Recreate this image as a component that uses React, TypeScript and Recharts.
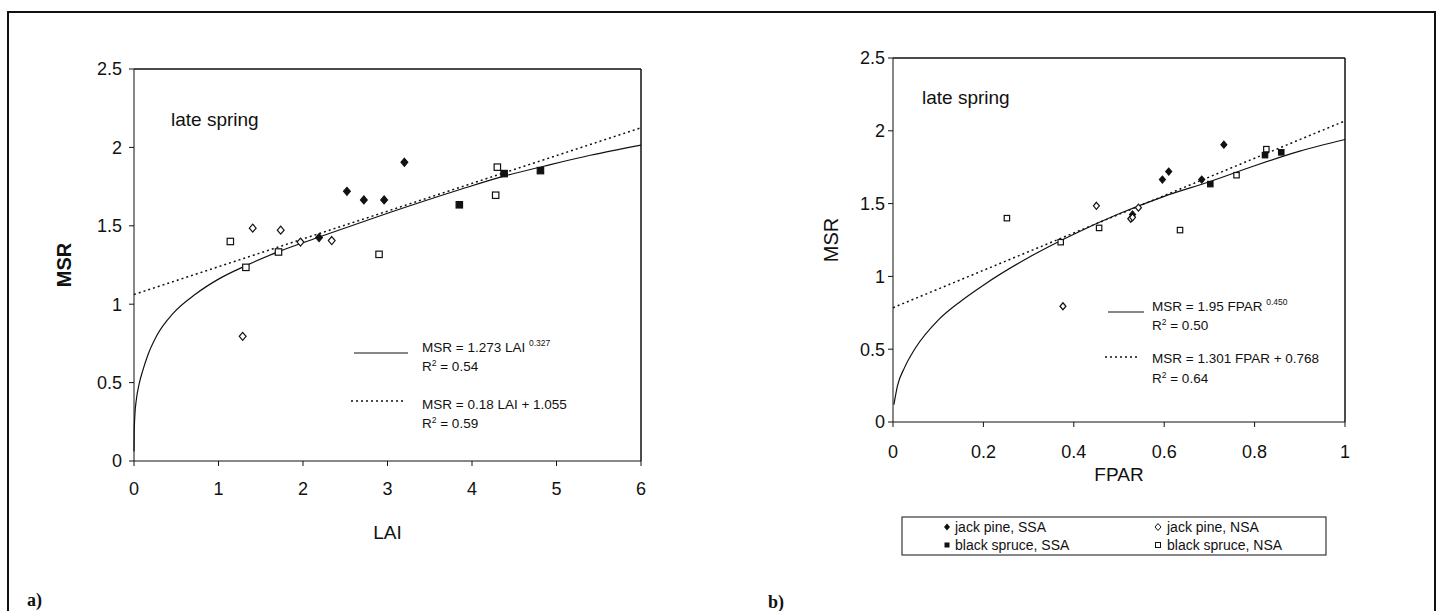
import { ComposedChart, Line, Scatter, XAxis, YAxis, ReferenceLine } from 'recharts';

const FONT = '"Liberation Sans", Arial, sans-serif';
const INK = '#111';

// same sites in both panels, MSR shared
const jackPineSsaMsr = [1.425, 1.72, 1.665, 1.665, 1.905];
const jackPineSsaLai = [2.19, 2.52, 2.72, 2.96, 3.2];
const jackPineSsaFpar = [0.53, 0.61, 0.596, 0.683, 0.732];

const jackPineNsaMsr = [1.485, 1.472, 1.396, 1.406, 0.795];
const jackPineNsaLai = [1.405, 1.736, 1.97, 2.34, 1.286];
const jackPineNsaFpar = [0.45, 0.543, 0.526, 0.53, 0.376];

const blackSpruceSsaMsr = [1.634, 1.833, 1.852];
const blackSpruceSsaLai = [3.85, 4.38, 4.81];
const blackSpruceSsaFpar = [0.702, 0.823, 0.859];

const blackSpruceNsaMsr = [1.4, 1.235, 1.333, 1.318, 1.874, 1.695];
const blackSpruceNsaLai = [1.14, 1.324, 1.71, 2.9, 4.3, 4.28];
const blackSpruceNsaFpar = [0.252, 0.371, 0.456, 0.635, 0.826, 0.76];

// fitted curves
const laiPowerX = [0.0001, 0.002, 0.01, 0.03, 0.06, 0.1, 0.16, 0.27, 0.46, 0.73, 1.0, 1.32, 1.71, 2.2, 3.0, 3.85, 4.4, 4.85, 5.4, 6.0];
const laiPowerY = [0.06, 0.18, 0.29, 0.4, 0.49, 0.57, 0.67, 0.8, 0.94, 1.065, 1.16, 1.245, 1.335, 1.43, 1.58, 1.73, 1.82, 1.88, 1.95, 2.015];
const laiLinearX = [0, 6];
const laiLinearY = [1.062, 2.125];

const fparPowerX = [0.002, 0.01, 0.025, 0.05, 0.1, 0.15, 0.2, 0.3, 0.4, 0.5, 0.6, 0.7, 0.8, 0.9, 1.0];
const fparPowerY = [0.12, 0.25, 0.37, 0.51, 0.7, 0.83, 0.94, 1.13, 1.29, 1.43, 1.55, 1.65, 1.76, 1.86, 1.94];
const fparLinearX = [0, 1];
const fparLinearY = [0.785, 2.068];

const laiTicks = [0, 1, 2, 3, 4, 5, 6];
const fparTicks = [0, 0.2, 0.4, 0.6, 0.8, 1];
const msrTicks = [0, 0.5, 1, 1.5, 2, 2.5];

const pts = (xs: number[], ys: number[]) => xs.map((x, i) => ({ x, y: ys[i] }));

const diamond = (filled: boolean, r: number) => (props: any) => {
  const { cx, cy } = props;
  return (
    <path
      d={`M${cx},${cy - r}L${cx + r * 0.85},${cy}L${cx},${cy + r}L${cx - r * 0.85},${cy}Z`}
      fill={filled ? INK : '#fff'}
      stroke={INK}
      strokeWidth={1.2}
    />
  );
};

const square = (filled: boolean, r: number) => (props: any) => {
  const { cx, cy } = props;
  return (
    <rect x={cx - r} y={cy - r} width={r * 2} height={r * 2} fill={filled ? INK : '#fff'} stroke={INK} strokeWidth={1.2} />
  );
};

interface PanelProps {
  left: number;
  width: number;
  margin: { top: number; right: number; bottom: number; left: number };
  xDomain: [number, number];
  xTicks: number[];
  xLabel: string;
  xAxisHeight: number;
  xTickMargin: number;
  yTickMargin: number;
  yLabelOffset: number;
  yLabelBold?: boolean;
  xLabelOffset: number;
  jpSsaX: number[];
  jpNsaX: number[];
  bsSsaX: number[];
  bsNsaX: number[];
  powerX: number[];
  powerY: number[];
  linX: number[];
  linY: number[];
  markerR: number;
}

function Panel(p: PanelProps) {
  const tick = { fill: INK, fontSize: 18, fontFamily: FONT };
  return (
    <div style={{ position: 'absolute', left: p.left, top: 0 }}>
      <ComposedChart width={p.width} height={611} margin={p.margin}>
        <XAxis
          type="number"
          dataKey="x"
          domain={p.xDomain}
          ticks={p.xTicks}
          height={p.xAxisHeight}
          tick={tick}
          tickSize={5}
          tickMargin={p.xTickMargin}
          stroke={INK}
          label={{ value: p.xLabel, position: 'insideBottom', offset: p.xLabelOffset, fill: INK, fontSize: 19, fontFamily: FONT }}
        />
        <YAxis
          type="number"
          dataKey="y"
          domain={[0, 2.5]}
          ticks={msrTicks}
          width={60}
          tick={tick}
          tickSize={5}
          tickMargin={p.yTickMargin}
          stroke={INK}
          label={{
            value: 'MSR',
            angle: -90,
            position: 'insideLeft',
            offset: p.yLabelOffset,
            fill: INK,
            fontSize: 20,
            fontFamily: FONT,
            fontWeight: p.yLabelBold ? 700 : 400,
            style: { textAnchor: 'middle' },
          }}
        />
        <ReferenceLine y={2.5} stroke={INK} strokeWidth={1.5} />
        <ReferenceLine x={p.xDomain[1]} stroke={INK} strokeWidth={1.5} />
        <Line
          data={pts(p.linX, p.linY)}
          dataKey="y"
          type="linear"
          stroke={INK}
          strokeWidth={1.5}
          strokeDasharray="2 3"
          dot={false}
          activeDot={false}
          isAnimationActive={false}
        />
        <Line
          data={pts(p.powerX, p.powerY)}
          dataKey="y"
          type="monotone"
          stroke={INK}
          strokeWidth={1.2}
          dot={false}
          activeDot={false}
          isAnimationActive={false}
        />
        <Scatter data={pts(p.jpSsaX, jackPineSsaMsr)} shape={diamond(true, p.markerR)} isAnimationActive={false} />
        <Scatter data={pts(p.jpNsaX, jackPineNsaMsr)} shape={diamond(false, p.markerR)} isAnimationActive={false} />
        <Scatter data={pts(p.bsSsaX, blackSpruceSsaMsr)} shape={square(true, p.markerR - 0.8)} isAnimationActive={false} />
        <Scatter data={pts(p.bsNsaX, blackSpruceNsaMsr)} shape={square(false, p.markerR - 0.8)} isAnimationActive={false} />
      </ComposedChart>
    </div>
  );
}

const eqText = { fontFamily: FONT, fontSize: 13.5, fill: INK };

export default function App() {
  return (
    <div style={{ position: 'absolute', left: 0, top: 0, width: 1444, height: 611, background: '#fff', overflow: 'hidden' }}>
      <div
        style={{
          position: 'absolute',
          left: 7,
          top: 11,
          width: 1425,
          height: 640,
          borderTop: `2px solid ${INK}`,
          borderLeft: `2px solid ${INK}`,
          borderRight: `2px solid ${INK}`,
        }}
      />
      <Panel
        left={0}
        width={700}
        margin={{ top: 69, right: 59, bottom: 70, left: 74 }}
        xDomain={[0, 6]}
        xTicks={laiTicks}
        xLabel="LAI"
        xAxisHeight={80}
        xTickMargin={16}
        yTickMargin={7}
        yLabelOffset={-10}
        yLabelBold
        xLabelOffset={2}
        jpSsaX={jackPineSsaLai}
        jpNsaX={jackPineNsaLai}
        bsSsaX={blackSpruceSsaLai}
        bsNsaX={blackSpruceNsaLai}
        powerX={laiPowerX}
        powerY={laiPowerY}
        linX={laiLinearX}
        linY={laiLinearY}
        markerR={4}
      />
      <Panel
        left={720}
        width={700}
        margin={{ top: 58, right: 75, bottom: 129, left: 113 }}
        xDomain={[0, 1]}
        xTicks={fparTicks}
        xLabel="FPAR"
        xAxisHeight={60}
        xTickMargin={18}
        yTickMargin={3}
        yLabelOffset={-2}
        xLabelOffset={1}
        jpSsaX={jackPineSsaFpar}
        jpNsaX={jackPineNsaFpar}
        bsSsaX={blackSpruceSsaFpar}
        bsNsaX={blackSpruceNsaFpar}
        powerX={fparPowerX}
        powerY={fparPowerY}
        linX={fparLinearX}
        linY={fparLinearY}
        markerR={3.5}
      />
      <svg width={1444} height={611} style={{ position: 'absolute', left: 0, top: 0, pointerEvents: 'none' }}>
        <text x={171} y={126} fontFamily={FONT} fontSize={19} fill={INK}>late spring</text>
        <text x={922} y={104} fontFamily={FONT} fontSize={19} fill={INK}>late spring</text>

        {/* panel a fit legend */}
        <line x1={354} x2={408} y1={353} y2={353} stroke={INK} strokeWidth={1.2} />
        <text x={422} y={352} {...eqText}>
          MSR = 1.273 LAI <tspan fontSize={8.5} dy={-6}>0.327</tspan>
        </text>
        <text x={422} y={371} {...eqText}>
          R<tspan fontSize={8.5} dy={-5}>2</tspan><tspan dy={5}> = 0.54</tspan>
        </text>
        <line x1={351} x2={404} y1={401} y2={401} stroke={INK} strokeWidth={1.5} strokeDasharray="2 3" />
        <text x={422} y={409} {...eqText}>MSR = 0.18 LAI + 1.055</text>
        <text x={422} y={428} {...eqText}>
          R<tspan fontSize={8.5} dy={-5}>2</tspan><tspan dy={5}> = 0.59</tspan>
        </text>

        {/* panel b fit legend */}
        <line x1={1108} x2={1144} y1={312} y2={312} stroke={INK} strokeWidth={1.2} />
        <text x={1152} y={311} {...eqText}>
          MSR = 1.95 FPAR <tspan fontSize={8.5} dy={-6}>0.450</tspan>
        </text>
        <text x={1152} y={330} {...eqText}>
          R<tspan fontSize={8.5} dy={-5}>2</tspan><tspan dy={5}> = 0.50</tspan>
        </text>
        <line x1={1105} x2={1140} y1={357} y2={357} stroke={INK} strokeWidth={1.5} strokeDasharray="2 3" />
        <text x={1152} y={363} {...eqText}>MSR = 1.301 FPAR + 0.768</text>
        <text x={1152} y={383} {...eqText}>
          R<tspan fontSize={8.5} dy={-5}>2</tspan><tspan dy={5}> = 0.64</tspan>
        </text>

        {/* series legend */}
        <rect x={902} y={517} width={424} height={38} fill="#fff" stroke={INK} strokeWidth={1} />
        <path d="M947,523.5L950,527L947,530.5L944,527Z" fill={INK} />
        <text x={955} y={532} fontFamily={FONT} fontSize={14} fill={INK}>jack pine, SSA</text>
        <path d="M1158,523.5L1161,527L1158,530.5L1155,527Z" fill="#fff" stroke={INK} strokeWidth={1} />
        <text x={1167} y={532} fontFamily={FONT} fontSize={14} fill={INK}>jack pine, NSA</text>
        <rect x={944.5} y={542.5} width={5} height={5} fill={INK} />
        <text x={955} y={550} fontFamily={FONT} fontSize={14} fill={INK}>black spruce, SSA</text>
        <rect x={1155.5} y={542.5} width={5} height={5} fill="#fff" stroke={INK} strokeWidth={1} />
        <text x={1167} y={550} fontFamily={FONT} fontSize={14} fill={INK}>black spruce, NSA</text>

        <text x={27} y={606} fontFamily='"Liberation Serif", serif' fontWeight={700} fontSize={18} fill={INK}>a)</text>
        <text x={768} y={608} fontFamily='"Liberation Serif", serif' fontWeight={700} fontSize={18} fill={INK}>b)</text>
      </svg>
    </div>
  );
}
